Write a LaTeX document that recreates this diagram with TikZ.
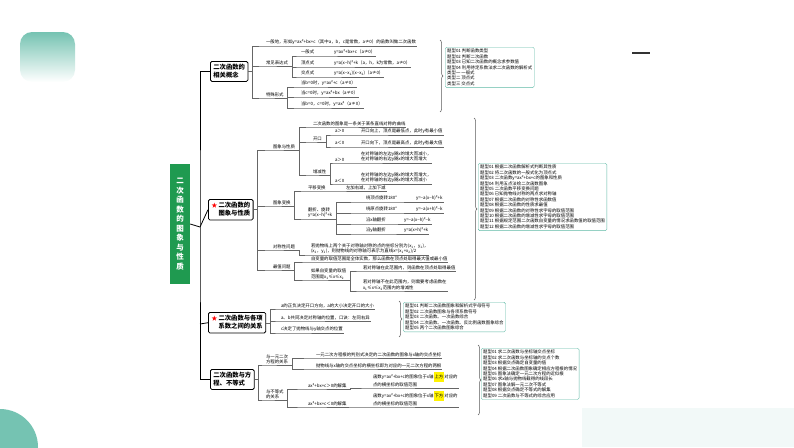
\documentclass[tikz,border=0pt]{standalone}
\usepackage{amssymb}
\usepackage{fontspec}
\setmainfont{Noto Sans CJK SC}
\usepackage{xcolor}
\usetikzlibrary{calc}
\usetikzlibrary{decorations.pathreplacing}
\definecolor{tealc}{HTML}{5DB8A4}
\definecolor{greenc}{HTML}{1F9A50}
\definecolor{hl}{HTML}{FFF200}
\newcommand\xone{x\textsubscript{1}}
\newcommand\xtwo{x\textsubscript{2}}
\newcommand\yone{y\textsubscript{1}}
\newcommand\fromBox[2]{\draw[ln] (#1.east) -- ++(4,0) |- (#2.south west) -- (#2.south east);}
\newcommand\fromLine[2]{\draw[ln] (#1.south east) -- ++(3,0) |- (#2.south west) -- (#2.south east);}
\begin{document}
\begin{tikzpicture}[x=1pt,y=-1pt,
    every node/.style={font=\fontsize{4.4}{5.4}\selectfont,inner sep=0.8pt},
    leaf/.style={anchor=south west,align=left},
    topic/.style={draw=black,rounded corners=1.5pt,fill=white,thick,align=left,
      font=\fontsize{6.3}{8}\selectfont\bfseries,inner sep=3pt,anchor=north west},
    list/.style={draw=tealc,rounded corners=1.5pt,align=left,anchor=north west,inner sep=2pt},
    ln/.style={gray!80!black,line width=0.4pt},
    brace/.style={decorate,decoration={brace,amplitude=3pt},gray!70!black,line width=0.5pt}]

    \useasboundingbox (0,0) rectangle (794,447);
    % decoration
    \begin{scope}
      \clip (0,0) rectangle (794,447);
      \shade[top color=tealc!85,bottom color=white,rounded corners=12pt] (20,32) -- (75,32) -- (75,82) -- (20,82) -- cycle;
      \fill[tealc!85] (0,447) circle[radius=38];
      \fill[tealc!8] (582,408) rectangle (794,447);
    \end{scope}
    \draw[black!80,line width=1.5pt] (632,53) -- (650,53);

    % title and main topics
    \node[fill=greenc,text=white,font=\fontsize{7.5}{9.5}\selectfont\bfseries,align=center,
      minimum width=20pt,minimum height=120pt,inner sep=1pt] (T) at (180,224)
      {二\\次\\函\\数\\的\\图\\象\\与\\性\\质};
    \node[topic] (C1) at (210,61) {二次函数的\\相关概念};
    \node[topic] (C2) at (208,199) {\textcolor{red}{$\bigstar$}\,二次函数的\\\phantom{$\bigstar$}\,图象与性质};
    \node[topic] (C3) at (208,312) {\textcolor{red}{$\bigstar$}\,二次函数与各项\\\phantom{$\bigstar$}\,系数之间的关系};
    \node[topic] (C4) at (210,369) {二次函数与方\\程、不等式};
    \coordinate (J) at (200,227);
    \draw[black,line width=0.8pt] (T.east) -- (J);
    \draw[black,line width=0.8pt] (C1.west) -| (J) |- (C4.west);
    \draw[black,line width=0.8pt] (J) -- (C2.west);
    \draw[black,line width=0.8pt] (200,324) -- (C3.west);

    % concept
    \node[leaf] (d1) at (265,46) {一般地，形如y=ax²+bx+c（其中a，b，c是常数，a≠0）的函数叫做二次函数};
    \node[leaf] (d2) at (265,66) {常见表达式};
    \node[leaf] (d3) at (265,98) {特殊形式};
    \node[leaf] (d21) at (300,56) {\makebox[33pt][l]{一般式}y=ax²+bx+c（a≠0）};
    \node[leaf] (d22) at (300,67) {\makebox[33pt][l]{顶点式}y=a(x−h)²+k（a，h，k为常数，a≠0）};
    \node[leaf] (d23) at (300,77) {\makebox[33pt][l]{交点式}y=a(x−\xone)(x−\xtwo)（a≠0）};
    \node[leaf] (d31) at (300,87) {当b=0时，y=ax²+c（a≠0）};
    \node[leaf] (d32) at (300,97) {当c=0时，y=ax²+bx（a≠0）};
    \node[leaf] (d33) at (300,108) {当b=0，c=0时，y=ax²（a≠0）};
    \foreach \c in {d1,d2,d3} {\fromBox{C1}{\c}}
    \foreach \c in {d21,d22,d23} {\fromLine{d2}{\c}}
    \foreach \c in {d31,d32,d33} {\fromLine{d3}{\c}}
    \draw[brace] (440,40) -- (440,112);
    \node[list] (L1) at (445,47) {题型01 判断函数类型\\题型02 判断二次函数\\题型03 已知二次函数的概念求参数值\\题型04 利用待定系数法求二次函数的解析式\\类型一 一般式\\类型二 顶点式\\类型三 交点式};

    % graph and properties
    \node[leaf] (g1) at (272,150) {图象与性质};
    \node[leaf] (g2) at (272,206) {图象变换};
    \node[leaf] (g3) at (272,250) {对称性问题};
    \node[leaf] (g4) at (272,270) {最值问题};
    \foreach \c in {g1,g2,g3,g4} {\fromBox{C2}{\c}}
    \node[leaf] (g11) at (312,127) {二次函数的图象是一条关于某条直线对称的曲线};
    \node[leaf] (g12) at (312,142) {开口};
    \node[leaf] (g13) at (312,175) {增减性};
    \foreach \c in {g11,g12,g13} {\fromLine{g1}{\c}}
    \node[leaf] (g121) at (334,135) {\makebox[26pt][l]{a＞0}开口向上，顶点是最低点，此时y有最小值};
    \node[leaf] (g122) at (334,147) {\makebox[26pt][l]{a＜0}开口向下，顶点是最高点，此时y有最大值};
    \foreach \c in {g121,g122} {\fromLine{g12}{\c}}
    \node[leaf] (g131a) at (334,163) {a＞0};
    \node[leaf] (g131) at (360,163) {在对称轴的左边y随x的增大而减小，\\在对称轴的右边y随x的增大而增大};
    \node[leaf] (g132a) at (334,184) {a＜0};
    \node[leaf] (g132) at (360,184) {在对称轴的左边y随x的增大而增大，\\在对称轴的右边y随x的增大而减小};
    \draw[ln] (g13.south east) -- ++(3,0) |- (g131a.south west) -- (g131.south east);
    \draw[ln] (g13.south east) -- ++(3,0) |- (g132a.south west) -- (g132.south east);
    \node[leaf] (g21) at (307,191) {\makebox[38pt][l]{平移变换}左加右减，上加下减};
    \node[leaf] (g22) at (307,219) {翻折、旋转\\y=a(x−h)²+k};
    \foreach \c in {g21,g22} {\fromLine{g2}{\c}}
    \node[leaf] (g221) at (365,202) {\makebox[50pt][l]{绕顶点旋转180°}y=−a(x−h)²+k};
    \node[leaf] (g222) at (365,213) {\makebox[50pt][l]{绕原点旋转180°}y=−a(x+h)²−k};
    \node[leaf] (g223) at (365,224) {\makebox[38pt][l]{沿x轴翻折}y=−a(x−h)²−k};
    \node[leaf] (g224) at (365,234) {\makebox[38pt][l]{沿y轴翻折}y=a(x+h)²+k};
    \foreach \c in {g221,g222,g223,g224} {\fromLine{g22}{\c}}
    \node[leaf] (g31) at (310,255) {若抛物线上两个关于对称轴对称的点的坐标分别为(\xone，\yone)，\\(\xtwo，\yone)，则抛物线的对称轴可表示为直线x=(\xone+\xtwo)/2};
    \fromLine{g3}{g31}
    \node[leaf] (g41) at (310,262) {自变量的取值范围是全体实数，那么函数在顶点处取得最大值或最小值};
    \node[leaf] (g42) at (310,280) {如果自变量的取值\\范围是\xone≤x≤\xtwo};
    \foreach \c in {g41,g42} {\fromLine{g4}{\c}}
    \node[leaf] (g421) at (362,271) {若对称轴在此范围内，则函数在顶点处取得最值};
    \node[leaf] (g422) at (362,291) {若对称轴不在此范围内，则需要考虑函数在\\\xone≤x≤\xtwo 范围内的增减性};
    \foreach \c in {g421,g422} {\fromLine{g42}{\c}}
    \draw[brace] (474,118) -- (474,300);
    \node[list] (L2) at (478,163) {题型01 根据二次函数解析式判断其性质\\题型02 将二次函数的一般式化为顶点式\\题型03 二次函数y=ax²+bx+c的图象和性质\\题型04 利用五点法绘二次函数图象\\题型05 二次函数平移变换问题\\题型06 已知抛物线对称的两点求对称轴\\题型07 根据二次函数的对称性求函数值\\题型08 根据二次函数的性质求最值\\题型09 根据二次函数的对称性求字母的取值范围\\题型10 根据二次函数的增减性求字母的取值范围\\题型11 根据规定范围二次函数自变量的情况求函数值的取值范围\\题型12 根据二次函数的增减性求字母的取值范围};

    % coefficients
    \node[leaf] (k1) at (280,309) {a的正负决定开口方向，a的大小决定开口的大小};
    \node[leaf] (k2) at (280,321) {a、b共同决定对称轴的位置，口诀：左同右异};
    \node[leaf] (k3) at (280,333) {c决定了抛物线与y轴交点的位置};
    \foreach \c in {k1,k2,k3} {\fromBox{C3}{\c}}
    \draw[brace] (399,301) -- (399,337);
    \node[list] (L3) at (403,302) {题型01 判断二次函数图象和解析式字母符号\\题型02 二次函数图象与各项系数符号\\题型03 二次函数、一次函数综合\\题型04 二次函数、一次函数、反比例函数图象综合\\题型05 两个二次函数图象综合};

    % equations and inequalities
    \node[leaf] (e1) at (265,365) {与一元二次\\方程的关系};
    \node[leaf] (e2) at (265,400) {与不等式\\的关系};
    \foreach \c in {e1,e2} {\fromBox{C4}{\c}}
    \node[leaf] (e11) at (315,358) {一元二次方程根的判别式决定的二次函数的图象与x轴的交点坐标};
    \node[leaf] (e12) at (315,369) {抛物线与x轴的交点坐标的横坐标即为对应的一元二次方程的两根};
    \foreach \c in {e11,e12} {\fromLine{e1}{\c}}
    \node[leaf] (e21) at (307,389) {ax²+bx+c＞0的解集};
    \node[leaf] (e22) at (307,407) {ax²+bx+c＜0的解集};
    \foreach \c in {e21,e22} {\fromLine{e2}{\c}}
    \node[leaf] (e211) at (372,388) {函数y=ax²+bx+c的图象位于x轴\colorbox{hl}{\kern-2pt上方\kern-2pt}对应的\\点的横坐标的取值范围};
    \node[leaf] (e221) at (372,407) {函数y=ax²+bx+c的图象位于x轴\colorbox{hl}{\kern-2pt下方\kern-2pt}对应的\\点的横坐标的取值范围};
    \fromLine{e21}{e211}
    \fromLine{e22}{e221}
    \draw[brace] (478,345) -- (478,415);
    \node[list] (L4) at (481,348) {题型01 求二次函数与坐标轴交点坐标\\题型02 求二次函数与坐标轴的交点个数\\题型03 根据交点确定自变量的值\\题型04 根据二次函数图象确定相应方程根的情况\\题型05 图象法确定一元二次方程的近似根\\题型06 求x轴与抛物线截得的线段长\\题型07 图象法解一元二次不等式\\题型08 根据交点确定不等式的解集\\题型09 二次函数与不等式的综合应用};
\end{tikzpicture}
\end{document}
